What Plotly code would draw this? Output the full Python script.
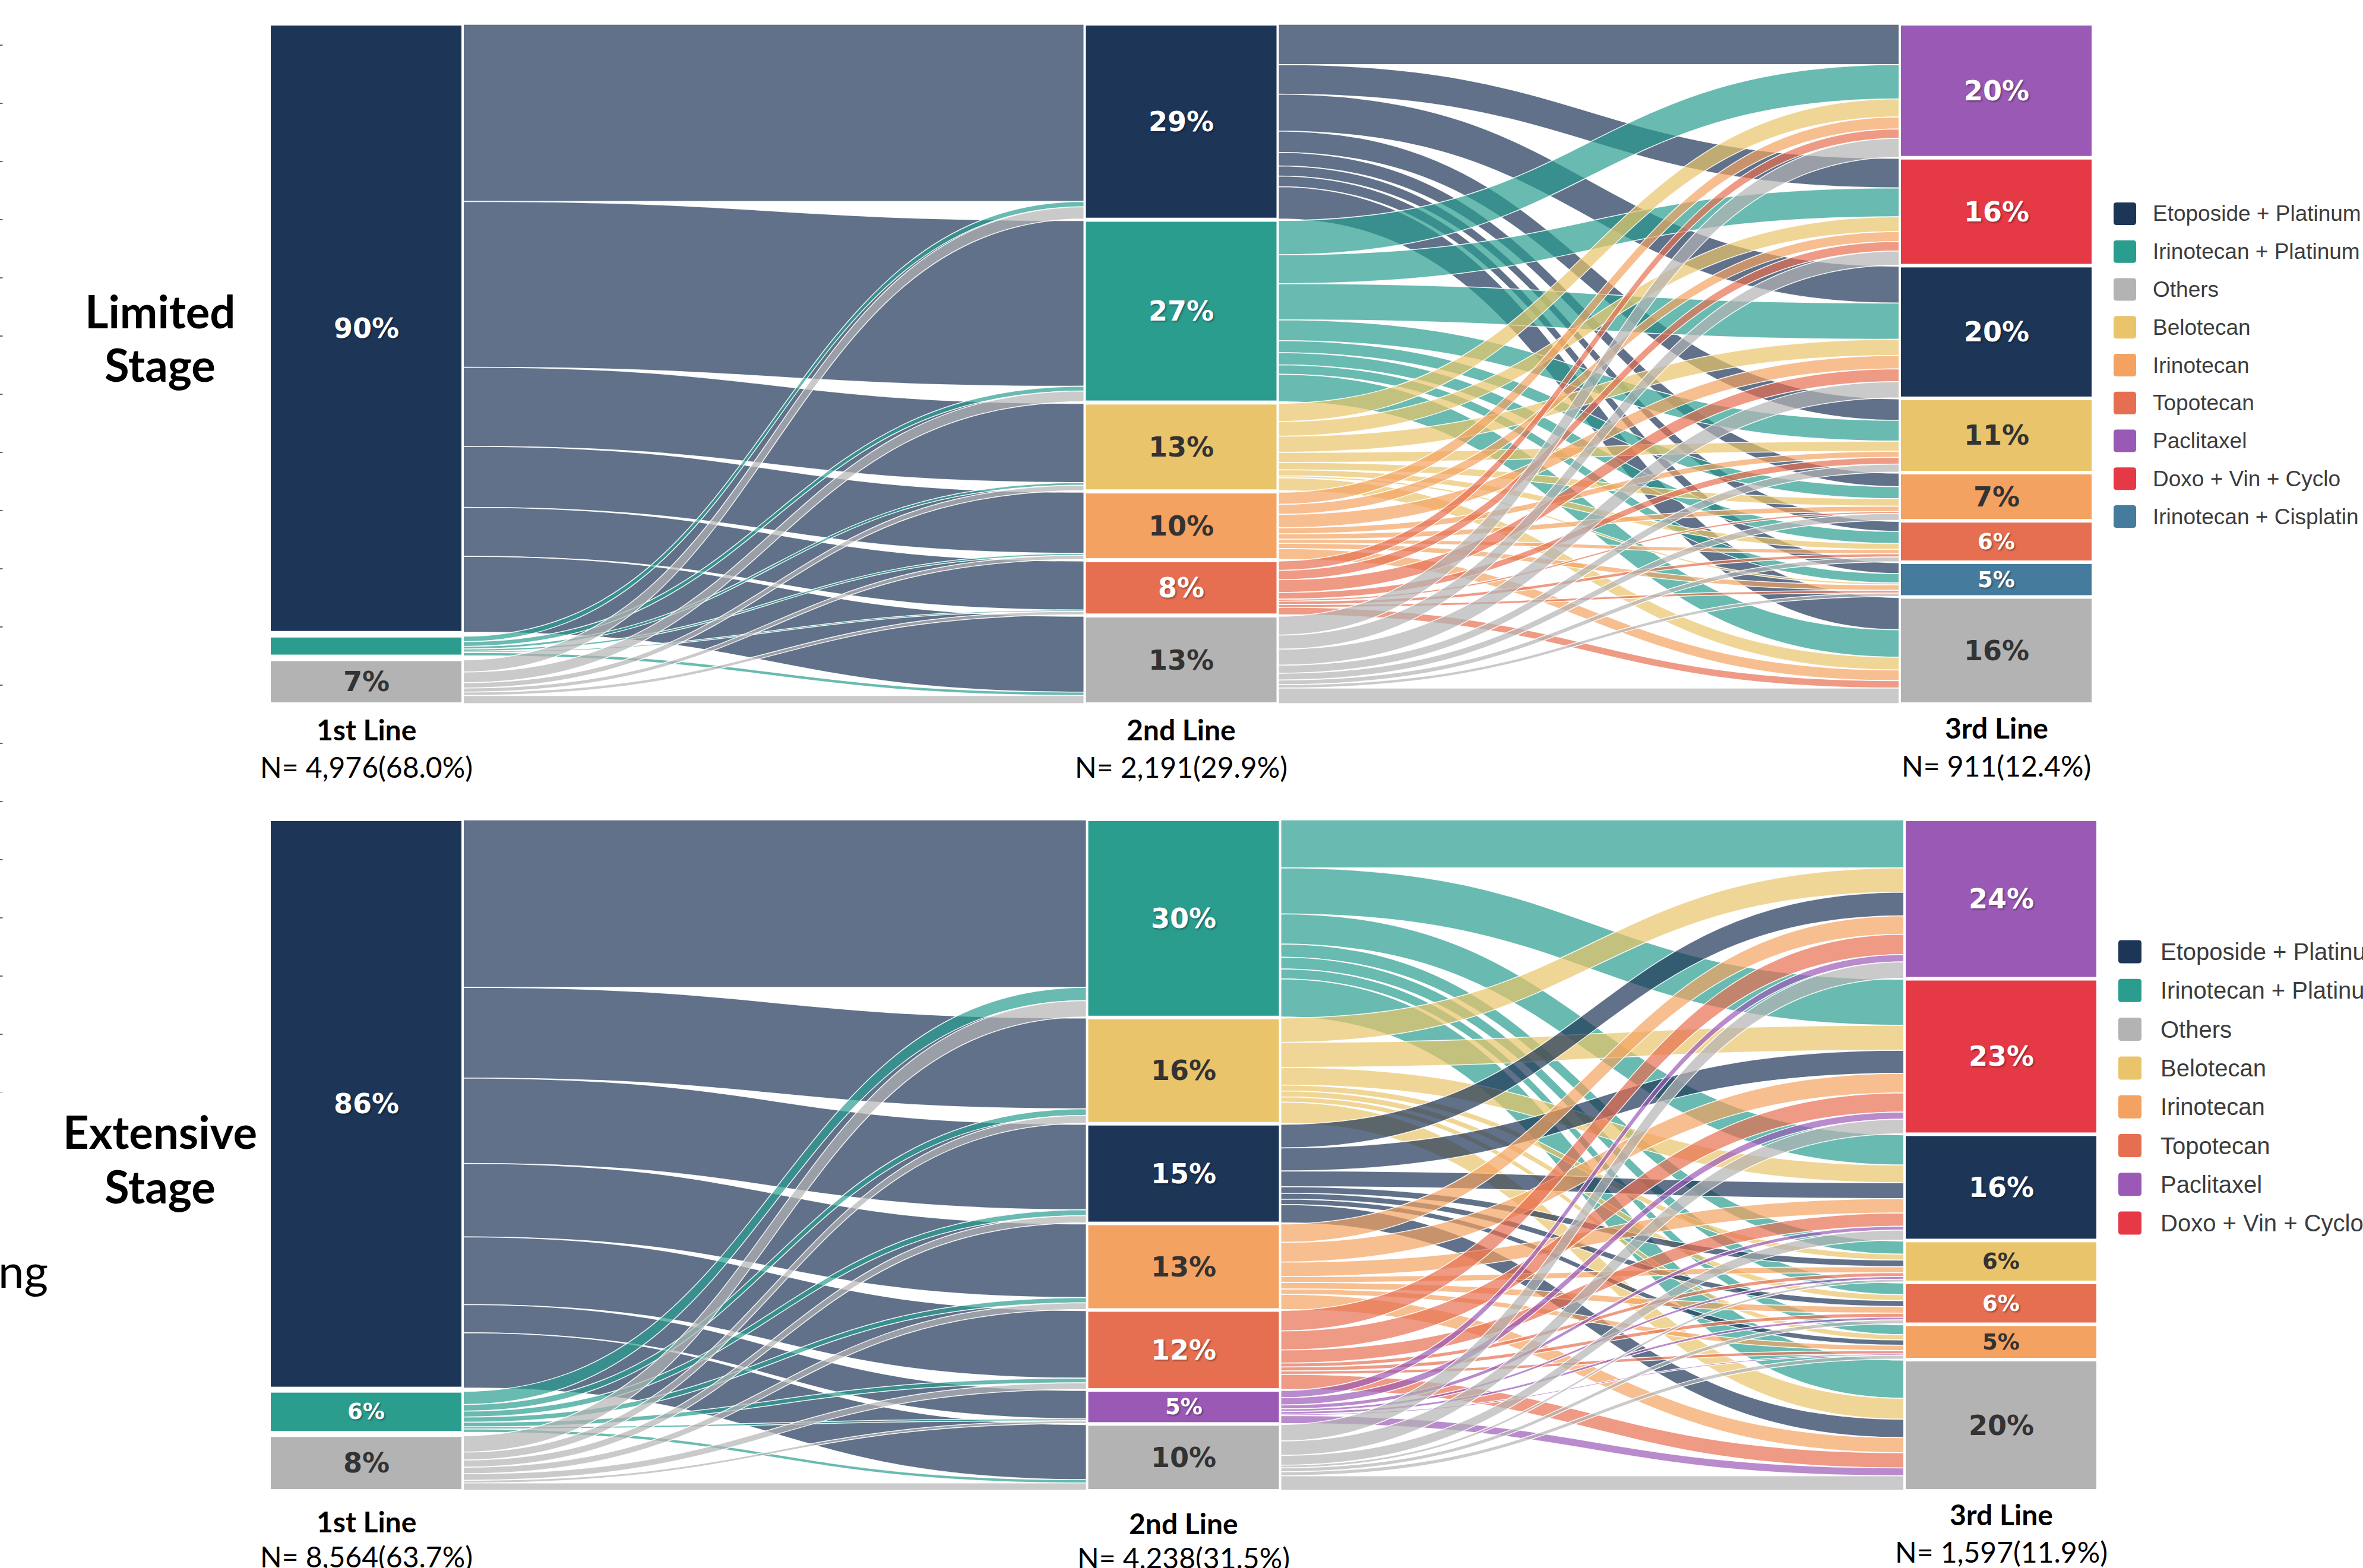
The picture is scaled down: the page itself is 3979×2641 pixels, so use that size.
import plotly.graph_objects as go

FIG_W, FIG_H = 3979, 2641
PAGE_OFF = 0  # body margin removed via post_script

# ---------------- data ----------------
node_colors = {
    "Etoposide + Platinum": "#1d3557",
    "Irinotecan + Platinum": "#2a9d8f",
    "Others": "#b3b3b3",
    "Belotecan": "#e9c46a",
    "Irinotecan": "#f4a261",
    "Topotecan": "#e76f51",
    "Paclitaxel": "#9b59b6",
    "Doxo + Vin + Cyclo": "#e63946",
    "Irinotecan + Cisplatin": "#457b9d",
}
dark_text_nodes = {"Others", "Belotecan", "Irinotecan"}

line_titles = ["1st Line", "2nd Line", "3rd Line"]

# Limited stage
ls_line1 = ["Etoposide + Platinum", "Irinotecan + Platinum", "Others"]
ls_line1_pct = ["90%", "", "7%"]
ls_line2 = ["Etoposide + Platinum", "Irinotecan + Platinum", "Belotecan",
            "Irinotecan", "Topotecan", "Others"]
ls_line2_pct = ["29%", "27%", "13%", "10%", "8%", "13%"]
ls_line3 = ["Paclitaxel", "Doxo + Vin + Cyclo", "Etoposide + Platinum", "Belotecan",
            "Irinotecan", "Topotecan", "Irinotecan + Cisplatin", "Others"]
ls_line3_pct = ["20%", "16%", "20%", "11%", "7%", "6%", "5%", "16%"]
ls_flow12 = [[26.4, 24.7, 11.8, 9.1, 7.3, 11.3],
             [0.8, 0.7, 0.4, 0.3, 0.2, 0.5],
             [1.8, 1.6, 0.8, 0.6, 0.5, 1.2]]
ls_flow23 = [[6.0, 4.4, 5.5, 3.2, 2.0, 1.5, 1.6, 4.8],
             [5.1, 4.3, 5.4, 3.1, 1.8, 1.8, 1.4, 4.1],
             [2.7, 2.2, 2.4, 1.5, 1.1, 0.9, 0.3, 1.9],
             [1.8, 1.5, 2.0, 0.9, 0.8, 0.6, 0.8, 1.6],
             [1.4, 1.4, 1.9, 1.0, 0.3, 0.5, 0.4, 1.1],
             [2.8, 2.1, 2.4, 1.2, 1.0, 0.7, 0.5, 2.3]]
ls_counts = ["N= 4,976(68.0%)", "N= 2,191(29.9%)", "N= 911(12.4%)"]
ls_legend = ["Etoposide + Platinum", "Irinotecan + Platinum", "Others", "Belotecan",
             "Irinotecan", "Topotecan", "Paclitaxel", "Doxo + Vin + Cyclo",
             "Irinotecan + Cisplatin"]

# Extensive stage
es_line1 = ["Etoposide + Platinum", "Irinotecan + Platinum", "Others"]
es_line1_pct = ["86%", "6%", "8%"]
es_line2 = ["Irinotecan + Platinum", "Belotecan", "Etoposide + Platinum", "Irinotecan",
            "Topotecan", "Paclitaxel", "Others"]
es_line2_pct = ["30%", "16%", "15%", "13%", "12%", "5%", "10%"]
es_line3 = ["Paclitaxel", "Doxo + Vin + Cyclo", "Etoposide + Platinum", "Belotecan",
            "Topotecan", "Irinotecan", "Others"]
es_line3_pct = ["24%", "23%", "16%", "6%", "6%", "5%", "20%"]
es_flow12 = [[25.5, 13.8, 13.0, 11.2, 10.3, 4.3, 8.4],
             [2.0, 1.0, 0.9, 0.8, 0.7, 0.3, 0.5],
             [2.5, 1.2, 1.1, 1.0, 1.0, 0.4, 1.1]]
es_flow23 = [[7.3, 7.0, 4.6, 2.0, 1.8, 1.5, 5.8],
             [3.7, 3.8, 2.7, 0.9, 0.9, 0.8, 3.2],
             [3.6, 3.5, 2.4, 1.0, 0.9, 0.8, 2.8],
             [2.8, 3.0, 2.2, 0.9, 1.0, 0.8, 2.3],
             [3.1, 2.9, 2.0, 0.6, 0.6, 0.5, 2.3],
             [1.1, 1.1, 0.6, 0.4, 0.4, 0.2, 1.2],
             [2.5, 2.2, 1.5, 0.4, 0.6, 0.6, 2.2]]
es_counts = ["N= 8,564(63.7%)", "N= 4,238(31.5%)", "N= 1,597(11.9%)"]
es_legend = ls_legend[:8]

# ---------------- styling / geometry (pixels) ----------------
NODE_T = 325
PAD = 2
LINK_ALPHA = 0.7
LS_BOX = dict(x0=454, x1=3524, y0=41, y1=1185)
ES_BOX = dict(x0=454, x1=3532, y0=1381, y1=2510)
LS_TITLE_Y, LS_N_Y = [1228, 1228, 1225], [1291, 1291, 1289]
ES_TITLE_Y, ES_N_Y = [2562, 2565, 2550], [2621, 2623, 2613]


def px_x(v):
    return (v - PAGE_OFF) / FIG_W


def px_y(v):
    return 1 - (v - PAGE_OFF) / FIG_H


def rgba(h, a):
    h = h.lstrip("#")
    return "rgba(%d,%d,%d,%s)" % (int(h[0:2], 16), int(h[2:4], 16), int(h[4:6], 16), a)


annotations = []
shapes = []


def build_sankey(cols, pcts, flows, box, title_y, n_y, counts):
    names = [n for c in cols for n in c]
    labels = [p for c in pcts for p in c]
    offs = [0, len(cols[0]), len(cols[0]) + len(cols[1])]
    src, tgt, val = [], [], []
    for k, mat in enumerate(flows):
        for i, row in enumerate(mat):
            for j, v in enumerate(row):
                src.append(offs[k] + i)
                tgt.append(offs[k + 1] + j)
                val.append(v)
    N = len(names)
    vin, vout = [0.0] * N, [0.0] * N
    for s, t, v in zip(src, tgt, val):
        vout[s] += v
        vin[t] += v
    nval = [max(a, b) for a, b in zip(vin, vout)]
    W = box["x1"] - box["x0"]
    H = box["y1"] - box["y0"]
    col_idx = [list(range(offs[k], offs[k] + len(cols[k]))) for k in range(3)]
    ky = min((H - (len(c) - 1) * PAD) / sum(nval[i] for i in c) for c in col_idx)
    xc = [NODE_T / 2, W / 2, W - NODE_T / 2]
    nx, ny = [0] * N, [0] * N
    for k, c in enumerate(col_idx):
        total = sum(nval[i] for i in c) * ky
        gap = (H - total) / (len(c) - 1)
        y = 0.0
        for i in c:
            h = nval[i] * ky
            yc = y + h / 2
            nx[i] = xc[k] / W
            ny[i] = yc / H
            y += h + gap
            if labels[i]:
                dark = names[i] in dark_text_nodes
                annotations.append(dict(
                    x=px_x(box["x0"] + xc[k]), y=px_y(box["y0"] + yc),
                    xref="paper", yref="paper", text="<b>%s</b>" % labels[i],
                    showarrow=False, xanchor="center", yanchor="middle",
                    font=dict(family="DejaVu Sans", size=46 if h > 72 else 37,
                              color="#333333" if dark else "#ffffff",
                              shadow="none" if dark else "2px 2px 3px rgba(0,0,0,0.35)")))
        annotations.append(dict(
            x=px_x(box["x0"] + xc[k]), y=px_y(title_y[k]), xref="paper", yref="paper",
            text="<b>%s</b>" % line_titles[k], showarrow=False,
            xanchor="center", yanchor="middle",
            font=dict(family="Lato", size=48, color="#000000")))
        annotations.append(dict(
            x=px_x(box["x0"] + xc[k]), y=px_y(n_y[k]), xref="paper", yref="paper",
            text=counts[k], showarrow=False, xanchor="center", yanchor="middle",
            font=dict(family="Lato", size=48, color="#000000")))
    return go.Sankey(
        arrangement="fixed",
        domain=dict(x=[px_x(box["x0"]), px_x(box["x1"])],
                    y=[px_y(box["y1"]), px_y(box["y0"])]),
        node=dict(label=[""] * N, customdata=names,
                  hovertemplate="%{customdata}<extra></extra>",
                  color=[node_colors[n] for n in names],
                  x=nx, y=ny, pad=PAD, thickness=NODE_T,
                  line=dict(color="white", width=4)),
        link=dict(source=src, target=tgt, value=val,
                  color=[rgba(node_colors[names[s]], LINK_ALPHA) for s in src],
                  line=dict(color="rgba(255,255,255,0.9)", width=1.5)),
    )


def add_legend(items, sq_x, y_first, step, sq, text_x, fsize):
    for k, name in enumerate(items):
        yc = y_first + k * step
        x0, x1 = px_x(sq_x), px_x(sq_x + sq)
        y0, y1 = px_y(yc + sq / 2), px_y(yc - sq / 2)
        rx, ry = 5 / FIG_W, 5 / FIG_H
        path = ("M %f,%f L %f,%f Q %f,%f %f,%f L %f,%f Q %f,%f %f,%f L %f,%f Q %f,%f %f,%f "
                "L %f,%f Q %f,%f %f,%f Z") % (
            x0 + rx, y0, x1 - rx, y0, x1, y0, x1, y0 + ry,
            x1, y1 - ry, x1, y1, x1 - rx, y1,
            x0 + rx, y1, x0, y1, x0, y1 - ry,
            x0, y0 + ry, x0, y0, x0 + rx, y0)
        shapes.append(dict(type="path", path=path, xref="paper", yref="paper",
                           fillcolor=node_colors[name], line=dict(width=0)))
        annotations.append(dict(x=px_x(text_x), y=px_y(yc), xref="paper", yref="paper",
                                text=name, showarrow=False, xanchor="left", yanchor="middle",
                                font=dict(family="Liberation Sans", size=fsize, color="#3c3c3c")))


ls_trace = build_sankey([ls_line1, ls_line2, ls_line3],
                        [ls_line1_pct, ls_line2_pct, ls_line3_pct],
                        [ls_flow12, ls_flow23], LS_BOX, LS_TITLE_Y, LS_N_Y, ls_counts)
es_trace = build_sankey([es_line1, es_line2, es_line3],
                        [es_line1_pct, es_line2_pct, es_line3_pct],
                        [es_flow12, es_flow23], ES_BOX, ES_TITLE_Y, ES_N_Y, es_counts)

add_legend(ls_legend, 3559, 360, 63.75, 38, 3623, 37)
add_legend(es_legend, 3567, 1603, 65.3, 39, 3636, 40)

# stage titles
for text, yv in [("Limited", 523), ("Stage", 614), ("Extensive", 1905), ("Stage", 1997)]:
    annotations.append(dict(x=px_x(269), y=px_y(yv), xref="paper", yref="paper",
                            text="<b>%s</b>" % text, showarrow=False,
                            xanchor="center", yanchor="middle",
                            font=dict(family="Lato", size=76, color="#000000")))
annotations.append(dict(x=px_x(-5), y=px_y(2139), xref="paper", yref="paper",
                        text="ng", showarrow=False, xanchor="left", yanchor="middle",
                        font=dict(family="Lato", size=78, color="#000000")))

# faint tick marks at the left edge
shapes.append(dict(type="line", xref="paper", yref="paper",
                   x0=px_x(2), x1=px_x(2), y0=px_y(75), y1=px_y(1840),
                   line=dict(color="#666666", width=5, dash="2px,96px")))

fig = go.Figure([ls_trace, es_trace])
fig.update_layout(width=FIG_W, height=FIG_H, margin=dict(l=0, r=0, t=0, b=0),
                  paper_bgcolor="white", plot_bgcolor="white",
                  annotations=annotations, shapes=shapes, showlegend=False)
fig.write_html("out.html", config={"displayModeBar": False},
               post_script="document.body.style.margin='0';document.body.style.padding='0';")
